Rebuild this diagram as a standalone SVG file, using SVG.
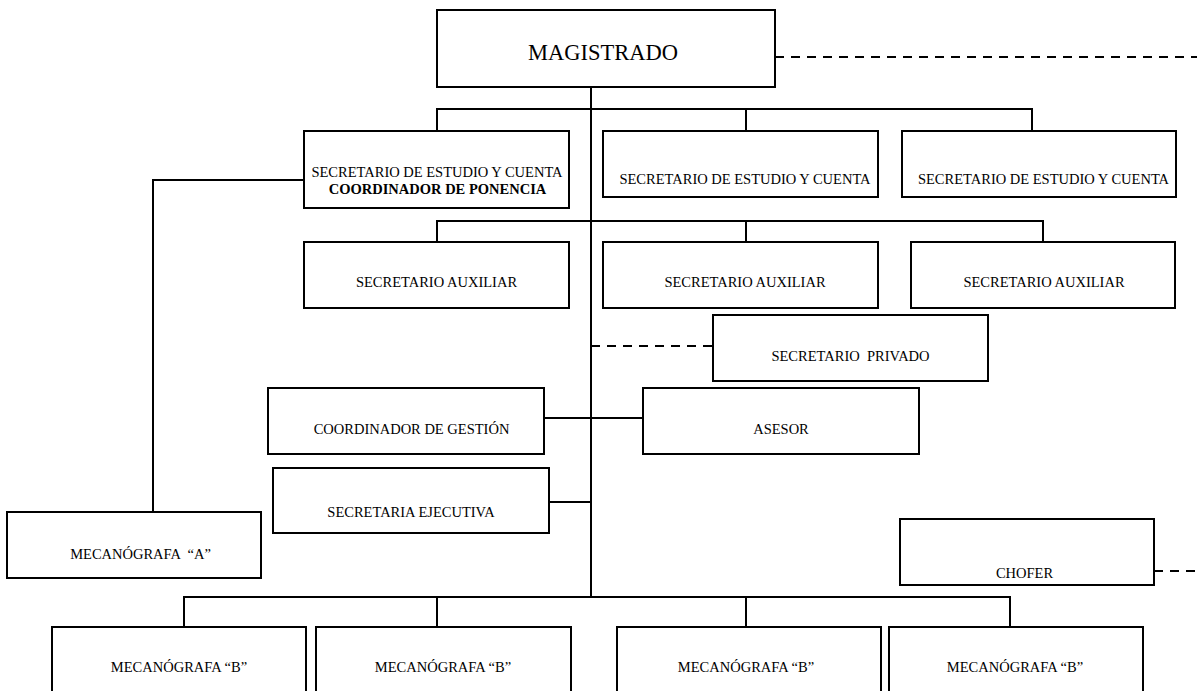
<svg xmlns="http://www.w3.org/2000/svg" width="1197" height="691" viewBox="0 0 1197 691">
<style>
.box{fill:#fff;stroke:#000;stroke-width:2}
.ln{fill:none;stroke:#000;stroke-width:2}
.dash{fill:none;stroke:#000;stroke-width:2;stroke-dasharray:9 7}
text{font-family:"Liberation Serif","Times New Roman",serif;font-size:14.5px;fill:#000;text-anchor:middle}
.b{font-weight:bold}
.big{font-size:22.5px}
</style>
<rect width="1197" height="691" fill="#fff"/>
<g id="connectors">
<line class="ln" x1="591" y1="87" x2="591" y2="597"/>
<polyline class="ln" points="437,131 437,109 1032,109 1032,131"/>
<line class="ln" x1="746" y1="109" x2="746" y2="131"/>
<polyline class="ln" points="437,242 437,221 1043,221 1043,242"/>
<line class="ln" x1="746" y1="221" x2="746" y2="242"/>
<line class="dash" x1="775" y1="57" x2="1197" y2="57"/>
<line class="dash" x1="591" y1="346" x2="713" y2="346"/>
<line class="ln" x1="544" y1="418" x2="643" y2="418"/>
<line class="ln" x1="549" y1="502" x2="591" y2="502"/>
<polyline class="ln" points="304,180 153,180 153,512"/>
<line class="dash" x1="1154" y1="571" x2="1197" y2="571"/>
<polyline class="ln" points="184,627 184,597 1010,597 1010,627"/>
<line class="ln" x1="437" y1="597" x2="437" y2="627"/>
<line class="ln" x1="746" y1="597" x2="746" y2="627"/>
</g>
<g id="magistrado"><rect class="box" x="437" y="10" width="338" height="77"/><text class="big" x="603" y="60">MAGISTRADO</text></g>
<g id="sec-estudio-1"><rect class="box" x="304" y="131" width="265" height="77"/><text x="437" y="177">SECRETARIO DE ESTUDIO Y CUENTA</text><text class="b" x="437.5" y="194">COORDINADOR DE PONENCIA</text></g>
<g id="sec-estudio-2"><rect class="box" x="603" y="131" width="275" height="66"/><text x="745" y="184">SECRETARIO DE ESTUDIO Y CUENTA</text></g>
<g id="sec-estudio-3"><rect class="box" x="902" y="131" width="274" height="66"/><text x="1043.5" y="184">SECRETARIO DE ESTUDIO Y CUENTA</text></g>
<g id="sec-aux-1"><rect class="box" x="304" y="242" width="265" height="66"/><text x="436.5" y="287">SECRETARIO AUXILIAR</text></g>
<g id="sec-aux-2"><rect class="box" x="603" y="242" width="275" height="66"/><text x="745" y="287">SECRETARIO AUXILIAR</text></g>
<g id="sec-aux-3"><rect class="box" x="911" y="242" width="264" height="66"/><text x="1044" y="287">SECRETARIO AUXILIAR</text></g>
<g id="sec-privado"><rect class="box" x="713" y="315" width="275" height="66"/><text x="850.5" y="361" xml:space="preserve">SECRETARIO  PRIVADO</text></g>
<g id="coord-gestion"><rect class="box" x="268" y="388" width="276" height="66"/><text x="411.5" y="434">COORDINADOR DE GESTIÓN</text></g>
<g id="asesor"><rect class="box" x="643" y="388" width="276" height="66"/><text x="781" y="434">ASESOR</text></g>
<g id="sec-ejecutiva"><rect class="box" x="273" y="468" width="276" height="65"/><text x="411" y="517">SECRETARIA EJECUTIVA</text></g>
<g id="mec-a"><rect class="box" x="7" y="512" width="254" height="66"/><text x="140.5" y="559" xml:space="preserve">MECANÓGRAFA  “A”</text></g>
<g id="chofer"><rect class="box" x="900" y="519" width="254" height="66"/><text x="1024.5" y="578">CHOFER</text></g>
<g id="mec-b-1"><rect class="box" x="52" y="627" width="254" height="70"/><text x="179" y="672">MECANÓGRAFA “B”</text></g>
<g id="mec-b-2"><rect class="box" x="316" y="627" width="255" height="70"/><text x="443" y="672">MECANÓGRAFA “B”</text></g>
<g id="mec-b-3"><rect class="box" x="617" y="627" width="264" height="70"/><text x="746" y="672">MECANÓGRAFA “B”</text></g>
<g id="mec-b-4"><rect class="box" x="889" y="627" width="254" height="70"/><text x="1015" y="672">MECANÓGRAFA “B”</text></g>
</svg>
